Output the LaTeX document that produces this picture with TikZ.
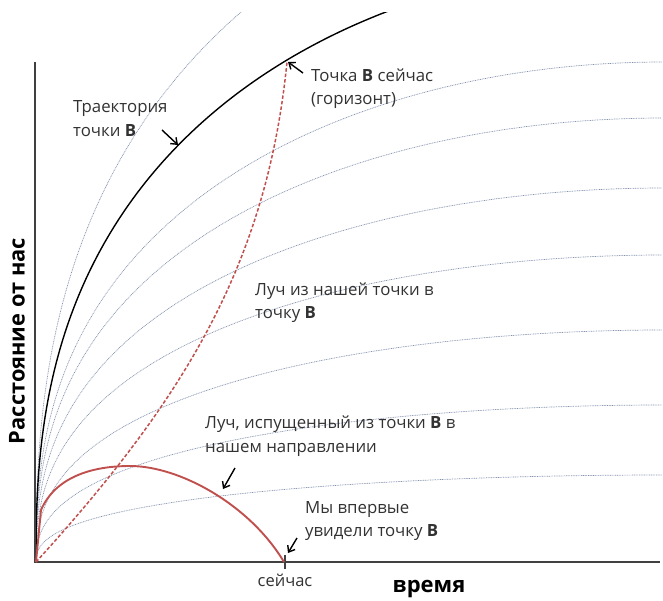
\documentclass[tikz,border=0pt]{standalone}
\usepackage{fontspec}
\setmainfont{Open Sans}
\usetikzlibrary{arrows.meta}
\definecolor{rayred}{RGB}{192,80,77}
\definecolor{axisgray}{RGB}{64,64,64}
\definecolor{txtgray}{RGB}{50,50,50}
\definecolor{dotblue}{RGB}{130,145,172}
\begin{document}
\begin{tikzpicture}[x=1pt,y=-1pt,
  dots/.style={draw=dotblue, line width=0.7pt, dash pattern=on 0.9pt off 0.8pt},
  traj/.style={draw=black, line width=1.4pt},
  axis/.style={draw=axisgray, line width=2.6pt},
  raysolid/.style={draw=rayred, line width=1.9pt, line join=round},
  raydash/.style={draw=rayred, line width=1.5pt, dash pattern=on 3.5pt off 2pt},
  callout/.style={draw=black, line width=1.4pt, -{Straight Barb[length=5.5pt,width=8.5pt]}},
  lbl/.style={anchor=west, align=left, inner sep=0pt, text=txtgray, font=\fontsize{16.8}{23.5}\selectfont},
  axlbl/.style={inner sep=0pt, text=black, font=\bfseries\fontsize{22}{25}\selectfont}]
\useasboundingbox (0,0) rectangle (663,600);

% named points
\coordinate (O) at (36,562);
\coordinate (Bnow) at (287,62);
\coordinate (Tnow) at (284,562);
\coordinate (kink) at (41,510);
\coordinate (peak) at (130,466);

% family of trajectories
\begin{scope}
\clip (0,12) rectangle (663,600);
\foreach \H in {700,500,444,374,307,232,157,87}{
  \draw[dots] plot[domain=0.002:1, samples=160, smooth, variable=\u]
    ({36+627*\u*\u*sqrt(\u)}, {562-\H*\u*(2-\u*\u*sqrt(\u))^0.4});
}
\draw[traj] plot[domain=0.002:1, samples=160, smooth, variable=\u]
    ({36+627*\u*\u*sqrt(\u)}, {562-600*\u*(2-\u*\u*sqrt(\u))^0.4});
\end{scope}

% axes
\coordinate (ytop) at (35,62);
\coordinate (xend) at (660,562);
\coordinate (corner) at (35,562);
\draw[axis] (ytop) -- (corner) -- (xend);
\coordinate (tickA) at (285,555);
\coordinate (tickB) at (285,569);
\draw[axis, line width=1.6pt] (tickA) -- (tickB);

% rays
\draw[raydash] (O) .. controls (186,397) and (267,262) .. (Bnow);
\draw[raysolid] (O) -- (kink) .. controls (55,478) and (90,466) .. (peak) .. controls (180,466) and (250,505) .. (Tnow);

% labels
\node[lbl] (ltraj) at (73,118.5) {Траектория\\точки \textbf{В}};
\node[lbl] (lnow) at (311,88.5) {Точка \textbf{В} сейчас\\(горизонт)};
\node[lbl] (lray1) at (255,302.5) {Луч из нашей точки в\\точку \textbf{В}};
\node[lbl] (lray2) at (205,436) {Луч, испущенный из точки \textbf{В} в\\нашем направлении};
\node[lbl] (lfirst) at (305,521) {Мы впервые\\увидели точку \textbf{В}};
\node[inner sep=0pt, text=txtgray, font=\fontsize{16.5}{18}\selectfont] (lsej) at (285,580) {сейчас};
\node[axlbl] (ltime) at (429,589) {время};
\node[axlbl, rotate=90, font=\bfseries\fontsize{21.8}{25}\selectfont] (ldist) at (17,341) {Расстояние от нас};

% callout arrows
\coordinate (a1t) at (162,130); \coordinate (a1h) at (178,145);
\coordinate (a2t) at (303,73);  \coordinate (a2h) at (288,62);
\coordinate (a3t) at (235,468); \coordinate (a3h) at (223,489);
\coordinate (a4t) at (297,538); \coordinate (a4h) at (288,553);
\draw[callout] (a1t) -- (a1h);
\draw[callout] (a2t) -- (a2h);
\draw[callout] (a3t) -- (a3h);
\draw[callout] (a4t) -- (a4h);
\end{tikzpicture}
\end{document}
